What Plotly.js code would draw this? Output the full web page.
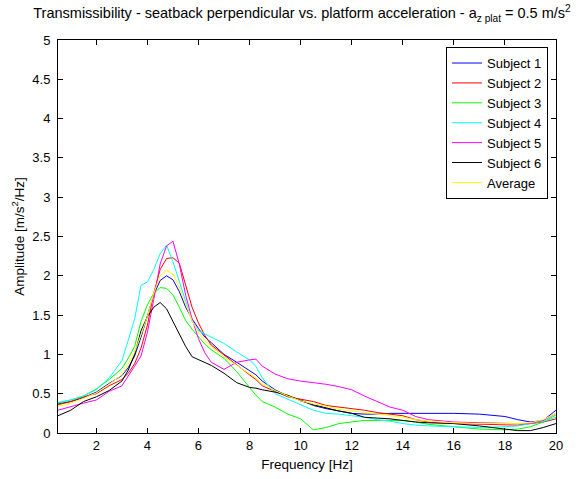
<!DOCTYPE html>
<html>
<head>
<meta charset="utf-8">
<script src="https://cdn.plot.ly/plotly-3.0.1.min.js"></script>
<style>html,body{margin:0;padding:0;background:#fff;}#chart{width:585px;height:479px;}</style>
</head>
<body>
<div id="chart"></div>
<script>
const freq = [0.5, 1, 1.5, 2, 2.5, 3, 3.25, 3.5, 3.75, 4, 4.25, 4.5, 4.75, 5, 5.25, 5.5, 5.75, 6, 6.25, 6.5, 7, 7.5, 8, 8.25, 8.5, 9, 9.5, 10, 10.5, 11, 11.5, 12, 12.5, 13, 13.5, 14, 14.5, 15, 16, 17, 18, 18.5, 19, 19.5, 20];

const subject1 = [0.37, 0.40, 0.45, 0.52, 0.63, 0.73, 0.83, 0.98, 1.22, 1.50, 1.76, 1.94, 2.00, 1.95, 1.80, 1.60, 1.45, 1.33, 1.22, 1.15, 1.00, 0.90, 0.80, 0.74, 0.66, 0.55, 0.47, 0.42, 0.35, 0.31, 0.28, 0.25, 0.24, 0.24, 0.25, 0.25, 0.25, 0.25, 0.25, 0.24, 0.21, 0.17, 0.14, 0.16, 0.29];
const subject2 = [0.36, 0.40, 0.46, 0.50, 0.60, 0.68, 0.76, 0.88, 1.08, 1.37, 1.78, 2.08, 2.22, 2.23, 2.16, 1.88, 1.60, 1.40, 1.24, 1.12, 0.99, 0.86, 0.74, 0.68, 0.60, 0.53, 0.46, 0.43, 0.40, 0.35, 0.33, 0.31, 0.29, 0.26, 0.24, 0.22, 0.17, 0.14, 0.12, 0.11, 0.10, 0.10, 0.12, 0.14, 0.18];
const subject3 = [0.38, 0.42, 0.47, 0.56, 0.68, 0.82, 0.95, 1.10, 1.42, 1.63, 1.78, 1.85, 1.84, 1.76, 1.60, 1.43, 1.32, 1.22, 1.13, 1.06, 0.95, 0.78, 0.58, 0.48, 0.40, 0.33, 0.24, 0.18, 0.04, 0.07, 0.12, 0.14, 0.16, 0.16, 0.16, 0.16, 0.14, 0.11, 0.08, 0.05, 0.04, 0.05, 0.08, 0.14, 0.23];
const subject4 = [0.39, 0.42, 0.47, 0.55, 0.70, 0.92, 1.18, 1.45, 1.88, 1.92, 2.08, 2.28, 2.39, 2.18, 1.93, 1.68, 1.42, 1.30, 1.26, 1.22, 1.14, 1.03, 0.93, 0.85, 0.70, 0.50, 0.43, 0.36, 0.29, 0.25, 0.24, 0.22, 0.20, 0.17, 0.15, 0.12, 0.10, 0.09, 0.08, 0.07, 0.08, 0.09, 0.12, 0.15, 0.20];
const subject5 = [0.29, 0.34, 0.38, 0.42, 0.53, 0.60, 0.72, 0.85, 0.98, 1.28, 1.70, 2.15, 2.38, 2.44, 2.15, 1.75, 1.45, 1.20, 1.02, 0.90, 0.81, 0.90, 0.93, 0.94, 0.85, 0.75, 0.69, 0.66, 0.64, 0.62, 0.59, 0.55, 0.47, 0.40, 0.33, 0.29, 0.21, 0.17, 0.14, 0.13, 0.12, 0.12, 0.12, 0.16, 0.25];
const subject6 = [0.22, 0.29, 0.40, 0.46, 0.54, 0.66, 0.80, 1.00, 1.30, 1.48, 1.60, 1.66, 1.58, 1.42, 1.24, 1.10, 0.97, 0.93, 0.90, 0.86, 0.76, 0.64, 0.58, 0.57, 0.55, 0.52, 0.48, 0.41, 0.36, 0.32, 0.28, 0.25, 0.20, 0.19, 0.18, 0.16, 0.14, 0.13, 0.12, 0.09, 0.05, 0.03, 0.03, 0.07, 0.12];
const average  = [0.34, 0.38, 0.44, 0.51, 0.62, 0.74, 0.87, 1.03, 1.25, 1.48, 1.78, 2.00, 2.07, 2.02, 1.85, 1.63, 1.43, 1.28, 1.18, 1.10, 0.97, 0.86, 0.76, 0.70, 0.63, 0.54, 0.47, 0.41, 0.37, 0.34, 0.30, 0.28, 0.26, 0.24, 0.22, 0.20, 0.17, 0.15, 0.13, 0.12, 0.12, 0.12, 0.13, 0.17, 0.25];

const seriesNames = ["Subject 1", "Subject 2", "Subject 3", "Subject 4", "Subject 5", "Subject 6", "Average"];
const seriesValues = [subject1, subject2, subject3, subject4, subject5, subject6, average];
const seriesColors = ["#0000ff", "#ff0000", "#00ff00", "#00ffff", "#ff00ff", "#000000", "#ffff00"];

const xTicks = [2, 4, 6, 8, 10, 12, 14, 16, 18, 20];
const yTicks = [0, 0.5, 1, 1.5, 2, 2.5, 3, 3.5, 4, 4.5, 5];

const traces = seriesNames.map((n, i) => ({
  x: freq, y: seriesValues[i], name: n, type: 'scatter', mode: 'lines',
  line: {color: seriesColors[i], width: 1}
}));

const fam = 'Arial, "Liberation Sans", sans-serif';
const font = {family: fam, size: 13, color: '#000'};

const layout = {
  width: 585, height: 479,
  margin: {l: 58, r: 29, t: 40, b: 46, pad: 0},
  paper_bgcolor: '#fff', plot_bgcolor: '#fff',
  font: font,
  title: {
    text: 'Transmissibility - seatback perpendicular vs. platform acceleration - a<sub>z plat</sub> = 0.5 m/s<sup>2</sup>',
    font: {family: fam, size: 14.5, color: '#000'},
    x: 0.49, xref: 'paper', xanchor: 'center', y: 0.972, yref: 'container', yanchor: 'middle'
  },
  xaxis: {
    range: [0.5, 20], tickvals: xTicks, ticktext: xTicks.map(String),
    ticks: 'inside', ticklen: 5, tickcolor: '#000', showline: true, linecolor: '#000', linewidth: 1,
    mirror: 'ticks', showgrid: false, zeroline: false, tickfont: {family: fam, size: 13},
    title: {text: 'Frequency [Hz]', font: {family: fam, size: 13.5}, standoff: 7}
  },
  yaxis: {
    range: [0, 5], tickvals: yTicks, ticktext: yTicks.map(String),
    ticks: 'inside', ticklen: 5, tickcolor: '#000', showline: true, linecolor: '#000', linewidth: 1,
    mirror: 'ticks', showgrid: false, zeroline: false, tickfont: {family: fam, size: 13},
    ticklabelstandoff: 4,
    title: {text: 'Amplitude [m/s<sup>2</sup>/Hz]', font: {family: fam, size: 13.5}, standoff: 4}
  },
  showlegend: true,
  legend: {
    x: 0.984, y: 0.982, xanchor: 'right', yanchor: 'top',
    bgcolor: '#fff', bordercolor: '#000', borderwidth: 1,
    font: {family: fam, size: 13, color: '#000'},
    itemwidth: 30, tracegroupgap: 0
  }
};

Plotly.newPlot('chart', traces, layout, {displayModeBar: false, staticPlot: true});
</script>
</body>
</html>
